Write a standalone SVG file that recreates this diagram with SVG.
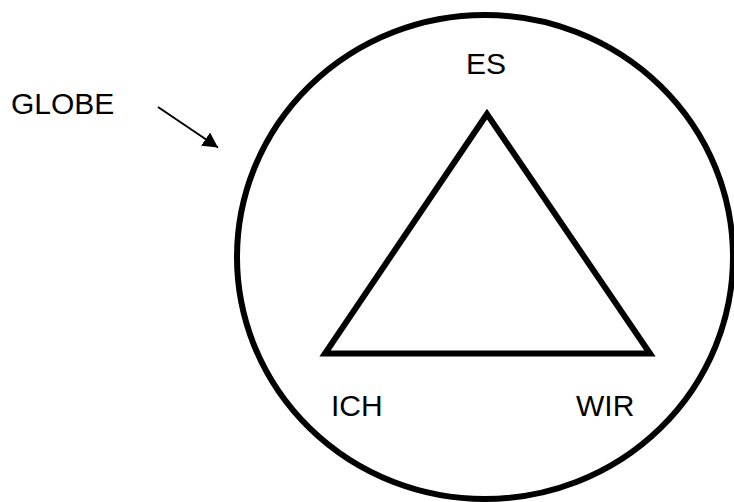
<svg xmlns="http://www.w3.org/2000/svg" width="734" height="502" viewBox="0 0 734 502">
<defs>
<style>
.lbl{font-family:"Liberation Sans",Arial,sans-serif;font-size:30px;fill:#000}
.shape{fill:none;stroke:#000;stroke-width:6}
</style>
<marker id="ah" markerWidth="15" markerHeight="16" refX="15" refY="8" orient="auto" markerUnits="userSpaceOnUse">
<path d="M0,0 L15,8 L0,16 Z" fill="#000"/>
</marker>
</defs>
<rect width="734" height="502" fill="#fff"/>
<g id="globe">
<ellipse class="shape" cx="485" cy="257" rx="248" ry="242" stroke-width="5"/>
</g>
<g id="triangle">
<path class="shape" d="M487,114 L325,353.5 L650,353.5 Z" stroke-miterlimit="10"/>
</g>
<g id="es"><text class="lbl" x="466" y="74">ES</text></g>
<g id="ich"><text class="lbl" x="331" y="416">ICH</text></g>
<g id="wir"><text class="lbl" x="576" y="416">WIR</text></g>
<g id="globe-label"><text class="lbl" x="11" y="114">GLOBE</text></g>
<g id="connectors">
<line x1="158" y1="107" x2="218" y2="147.5" stroke="#000" stroke-width="2" marker-end="url(#ah)"/>
</g>
</svg>
